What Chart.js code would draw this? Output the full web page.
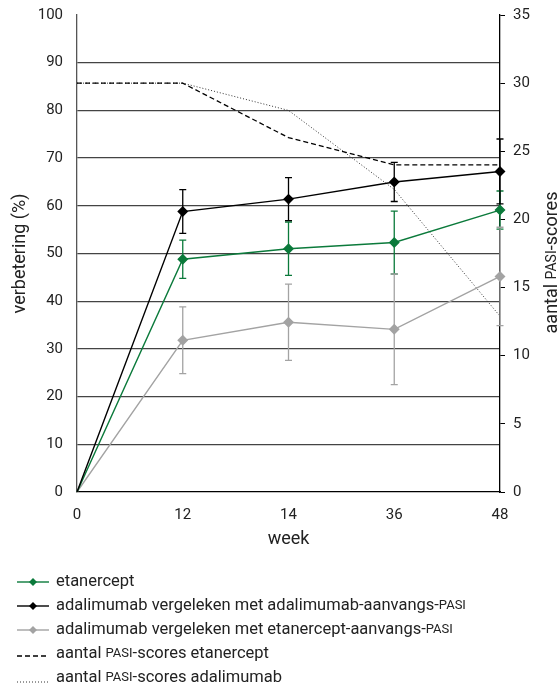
<!DOCTYPE html>
<html lang="nl">
<head>
<meta charset="UTF-8">
<title>verbetering</title>
<script src="https://cdn.jsdelivr.net/npm/chart.js"></script>
<style>
  html, body { margin: 0; padding: 0; background: #fff; }
  #wrap { width: 560px; height: 685px; position: relative; }
</style>
</head>
<body>
<div id="wrap"><canvas id="chart"></canvas></div>
<script>
// data
const weeks = ['0', '12', '14', '36', '48'];

const etanercept = [0, 48.8, 51.0, 52.3, 59.1];
const etanerceptErr = [0, 4.0, 5.6, 6.6, 4.0];

const adaVsAda = [0, 58.8, 61.4, 65.0, 67.2];
const adaVsAdaErr = [0, 4.6, 4.5, 4.1, 6.8];

const adaVsEta = [0, 31.8, 35.6, 34.1, 45.2];
const adaVsEtaErr = [0, 7.0, 8.0, 11.6, 10.3];

const pasiEtanercept = [30, 30, 26, 24, 24];
const pasiAdalimumab = [30, 30, 28, 22.2, 12.9];

const GREEN = '#0b7a3b';
const GREY = '#a3a3a3';
const FONT = 'Roboto';
const TEXT = '#222';

// text where "PASI" is set a little smaller, as in the original
function pasiText(ctx, str, x, y, size) {
  const parts = str.split('PASI');
  parts.forEach((p, i) => {
    ctx.font = size + 'px ' + FONT;
    ctx.fillText(p, x, y);
    x += ctx.measureText(p).width;
    if (i < parts.length - 1) {
      ctx.font = Math.round(size * 0.8) + 'px ' + FONT;
      ctx.fillText('PASI', x, y);
      x += ctx.measureText('PASI').width;
    }
  });
  return x;
}

const errorBars = {
  id: 'errorBars',
  afterDatasetsDraw(chart) {
    const ctx = chart.ctx;
    const y = chart.scales.y;
    chart.data.datasets.forEach((ds, i) => {
      if (!ds.err) return;
      const meta = chart.getDatasetMeta(i);
      ctx.save();
      ctx.strokeStyle = ds.borderColor;
      ctx.lineWidth = 1.3;
      meta.data.forEach((pt, j) => {
        const e = ds.err[j];
        if (!e) return;
        const top = y.getPixelForValue(ds.data[j] + e);
        const bot = y.getPixelForValue(ds.data[j] - e);
        ctx.beginPath();
        ctx.moveTo(pt.x, top); ctx.lineTo(pt.x, bot);
        ctx.moveTo(pt.x - 3.5, top); ctx.lineTo(pt.x + 3.5, top);
        ctx.moveTo(pt.x - 3.5, bot); ctx.lineTo(pt.x + 3.5, bot);
        ctx.stroke();
      });
      ctx.restore();
    });
  }
};

const extras = {
  id: 'extras',
  afterDraw(chart) {
    const ctx = chart.ctx;
    const area = chart.chartArea;
    ctx.save();
    ctx.fillStyle = TEXT;
    ctx.textBaseline = 'middle';

    // right axis title, reading bottom to top
    ctx.save();
    ctx.translate(552, (area.top + area.bottom) / 2 + 9);
    ctx.rotate(-Math.PI / 2);
    ctx.font = '18px ' + FONT;
    const w = ctx.measureText('aantal -scores').width;
    ctx.font = '14px ' + FONT;
    const wp = ctx.measureText('PASI').width;
    pasiText(ctx, 'aantal PASI-scores', -(w + wp) / 2, 0, 18);
    ctx.restore();

    // legend below the chart
    chart.data.datasets.forEach((ds, i) => {
      const yy = 582 + i * 24;
      ctx.strokeStyle = ds.borderColor;
      ctx.lineWidth = ds.borderWidth;
      ctx.setLineDash(ds.borderDash || []);
      ctx.beginPath();
      const ly = ds.borderDash && ds.borderDash[0] === 1 ? yy + 4 : (ds.borderDash ? yy + 2 : yy);
      ctx.moveTo(17, ly); ctx.lineTo(49, ly);
      ctx.stroke();
      ctx.setLineDash([]);
      if (ds.err) {
        ctx.fillStyle = ds.borderColor;
        ctx.beginPath();
        ctx.moveTo(33, yy - 4); ctx.lineTo(37, yy); ctx.lineTo(33, yy + 4); ctx.lineTo(29, yy);
        ctx.closePath(); ctx.fill();
      }
      ctx.fillStyle = TEXT;
      pasiText(ctx, ds.label, 56, yy, 16.5);
    });
    ctx.restore();
  }
};

new Chart(document.getElementById('chart'), {
  type: 'line',
  data: {
    labels: weeks,
    datasets: [
      { label: 'etanercept', data: etanercept, err: etanerceptErr, yAxisID: 'y',
        borderColor: GREEN, backgroundColor: GREEN, borderWidth: 1.4, order: 2 },
      { label: 'adalimumab vergeleken met adalimumab-aanvangs-PASI', data: adaVsAda, err: adaVsAdaErr, yAxisID: 'y',
        borderColor: '#000', backgroundColor: '#000', borderWidth: 1.4, order: 1 },
      { label: 'adalimumab vergeleken met etanercept-aanvangs-PASI', data: adaVsEta, err: adaVsEtaErr, yAxisID: 'y',
        borderColor: GREY, backgroundColor: GREY, borderWidth: 1.4, order: 3 },
      { label: 'aantal PASI-scores etanercept', data: pasiEtanercept, yAxisID: 'y2',
        borderColor: '#000', borderWidth: 1.3, borderDash: [5, 3], pointRadius: 0, order: 4 },
      { label: 'aantal PASI-scores adalimumab', data: pasiAdalimumab, yAxisID: 'y2',
        borderColor: '#333', borderWidth: 1, borderDash: [1, 2], pointRadius: 0, order: 5 }
    ]
  },
  options: {
    responsive: true,
    maintainAspectRatio: false,
    animation: false,
    layout: { padding: { top: 15, bottom: 131, left: 0, right: 0 } },
    elements: {
      line: { tension: 0 },
      point: { pointStyle: 'rectRot', radius: c => (c.dataIndex === 0 ? 0 : 4.5) }
    },
    plugins: { legend: { display: false }, tooltip: { enabled: false } },
    scales: {
      x: {
        offset: false,
        grid: { display: false, drawTicks: false },
        border: { color: '#000', width: 1.3 },
        ticks: { color: TEXT, font: { family: FONT, size: 15 }, padding: 14, maxRotation: 0 },
        title: { display: true, text: 'week', color: TEXT, font: { family: FONT, size: 18 }, padding: { top: 9 } },
        afterFit(s) { s.height = 62; s.paddingLeft = 0; s.paddingRight = 0; }
      },
      y: {
        position: 'left', min: 0, max: 100,
        ticks: { stepSize: 10, color: TEXT, font: { family: FONT, size: 15 }, padding: 14 },
        grid: {
          drawTicks: false,
          color: c => (c.tick.value === 100 || c.tick.value === 0 ? 'rgba(0,0,0,0)' : '#444'),
          lineWidth: 1.3
        },
        border: { color: '#555', width: 1.3 },
        title: { display: true, text: 'verbetering (%)', color: TEXT, font: { family: FONT, size: 18 }, padding: 10 },
        afterFit(s) { s.width = 77; s.paddingTop = 0; s.paddingBottom = 0; }
      },
      y2: {
        position: 'right', min: 0, max: 35,
        ticks: { stepSize: 5, color: TEXT, font: { family: FONT, size: 15 }, padding: 8 },
        grid: { drawOnChartArea: false, color: '#000', tickLength: 5 },
        border: { color: '#000', width: 1.3 },
        afterFit(s) { s.width = 60; s.paddingTop = 0; s.paddingBottom = 0; }
      }
    }
  },
  plugins: [errorBars, extras]
});
</script>
</body>
</html>
